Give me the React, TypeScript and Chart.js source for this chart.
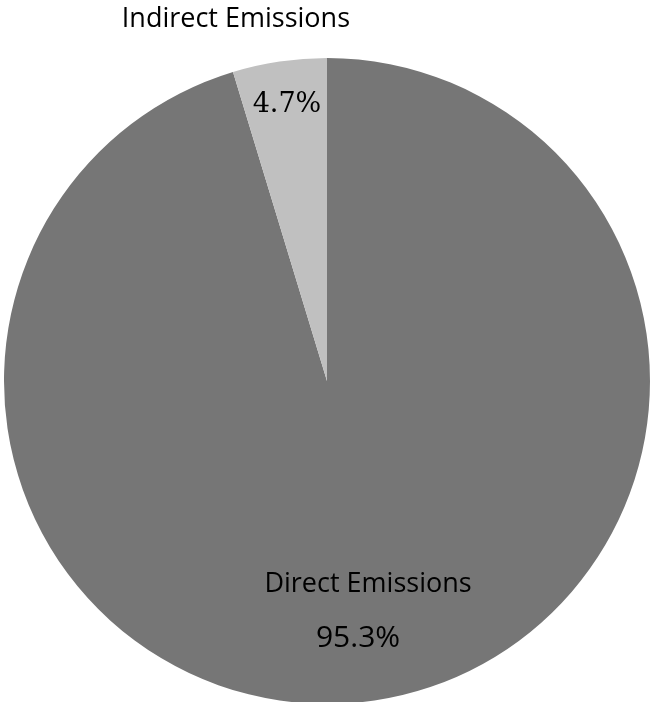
import React, { useEffect, useRef } from "react";
import { Chart, registerables } from "chart.js";

Chart.register(...registerables);

const categories = ["Direct Emissions", "Indirect Emissions"];
const shares = [95.3, 4.7];
const valueLabels = ["95.3%", "4.7%"];
const sliceColors = ["#767676", "#c0c0c0"];

const labelPlugin = {
  id: "pieLabels",
  afterDatasetsDraw(chart: any) {
    const meta = chart.getDatasetMeta(0);
    const arc0 = meta.data[0];
    if (!arc0) return;
    const cx = arc0.x;
    const cy = arc0.y;
    const r = arc0.outerRadius;
    const ctx = chart.ctx;
    ctx.save();
    ctx.textAlign = "center";
    ctx.textBaseline = "alphabetic";
    ctx.fillStyle = "#000000";
    // Indirect category (outside, top)
    ctx.font = "27px 'Open Sans', sans-serif";
    ctx.fillText(categories[1], cx - 0.282 * r, cy - 1.096 * r);
    // Indirect value
    ctx.font = "27px 'DejaVu Serif', serif";
    ctx.fillText(valueLabels[1], cx - 0.124 * r, cy - 0.833 * r);
    // Direct category
    ctx.font = "27px 'Open Sans', sans-serif";
    ctx.fillText(categories[0], cx + 0.127 * r, cy + 0.653 * r);
    // Direct value
    ctx.font = "30px 'Open Sans', sans-serif";
    ctx.fillText(valueLabels[0], cx + 0.096 * r, cy + 0.824 * r);
    ctx.restore();
  },
};

export default function App() {
  const ref = useRef<HTMLCanvasElement>(null);
  useEffect(() => {
    document.body.style.margin = "0";
    document.body.style.overflow = "hidden";
    document.documentElement.style.overflow = "hidden";
    const chart = new Chart(ref.current!, {
      type: "pie",
      data: {
        labels: categories,
        datasets: [
          {
            data: shares,
            backgroundColor: sliceColors,
            borderWidth: 0,
          },
        ],
      },
      options: {
        animation: false,
        responsive: false,
        layout: { padding: { top: 58, left: 4, right: 0, bottom: 2 } },
        plugins: {
          legend: { display: false },
          tooltip: { enabled: false },
        },
      },
      plugins: [labelPlugin],
    });
    return () => chart.destroy();
  }, []);
  return (
    <div style={{ width: 650, height: 706, overflow: "hidden", background: "#fff" }}>
      <canvas ref={ref} width={650} height={706} style={{ display: "block" }} />
    </div>
  );
}
